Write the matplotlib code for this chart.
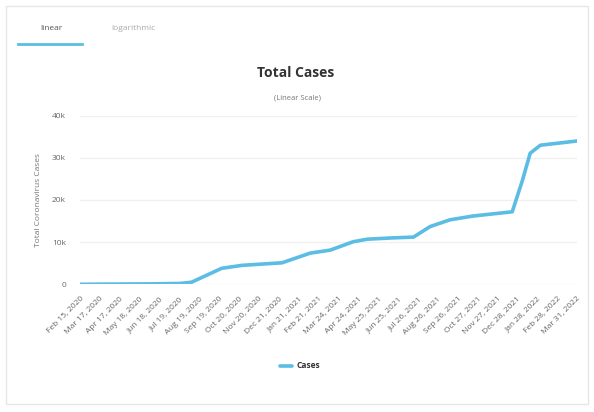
import numpy as np
import pandas as pd
import matplotlib
matplotlib.use("Agg")
import matplotlib.pyplot as plt
from matplotlib.patches import Rectangle
from matplotlib.lines import Line2D

# data
dates = ["2020-02-15", "2020-04-01", "2020-06-01", "2020-07-20", "2020-08-07",
         "2020-09-23", "2020-10-25", "2020-12-26", "2021-02-08", "2021-03-11",
         "2021-04-16", "2021-05-08", "2021-06-15", "2021-07-19", "2021-08-14",
         "2021-09-14", "2021-10-20", "2021-12-20", "2022-01-05", "2022-01-17",
         "2022-02-02", "2022-03-31"]
cases = [0, 50, 100, 200, 500,
         3800, 4500, 5100, 7400, 8100,
         10100, 10700, 11000, 11200, 13700,
         15300, 16200, 17200, 24700, 31100,
         33000, 34000]

tick_labels = ["Feb 15, 2020", "Mar 17, 2020", "Apr 17, 2020", "May 18, 2020",
               "Jun 18, 2020", "Jul 19, 2020", "Aug 19, 2020", "Sep 19, 2020",
               "Oct 20, 2020", "Nov 20, 2020", "Dec 21, 2020", "Jan 21, 2021",
               "Feb 21, 2021", "Mar 24, 2021", "Apr 24, 2021", "May 25, 2021",
               "Jun 25, 2021", "Jul 26, 2021", "Aug 26, 2021", "Sep 26, 2021",
               "Oct 27, 2021", "Nov 27, 2021", "Dec 28, 2021", "Jan 28, 2022",
               "Feb 28, 2022", "Mar 31, 2022"]
y_ticks = [0, 10000, 20000, 30000, 40000]
y_labels = ["0", "10k", "20k", "30k", "40k"]

plt.rcParams["font.family"] = ["Open Sans", "DejaVu Sans"]

W, H = 594, 412
fig = plt.figure(figsize=(W / 100, H / 100), dpi=100)
fig.patch.set_facecolor("white")

# card border
fig.patches.append(Rectangle((6 / W, 8 / H), 582 / W, 398 / H, transform=fig.transFigure,
                             facecolor="none", edgecolor="#e6e6e6", linewidth=1.0))

# tabs
fig.text(51 / W, 1 - 28 / H, "linear", ha="center", va="center", fontsize=6, color="#555555")
fig.text(133 / W, 1 - 28 / H, "logarithmic", ha="center", va="center", fontsize=6, color="#aaaaaa")
fig.add_artist(Line2D([18 / W, 82 / W], [1 - 44 / H, 1 - 44 / H], transform=fig.transFigure,
                      color="#5bbde4", linewidth=2))

# titles
fig.text(296 / W, 1 - 73 / H, "Total Cases", ha="center", va="center",
         fontsize=10, fontweight="bold", color="#333333")
fig.text(298 / W, 1 - 98 / H, "(Linear Scale)", ha="center", va="center",
         fontsize=5.5, color="#777777")

ax = fig.add_axes([80 / W, 1 - 284.3 / H, 497 / W, (284.3 - 115.7) / H])
ax.set_facecolor("none")
x = pd.to_datetime(dates)
ax.plot(x, cases, color="#5bbde4", linewidth=2.6, solid_capstyle="round", label="Cases")

tick_pos = pd.to_datetime(tick_labels, format="%b %d, %Y")
ax.set_xticks(tick_pos)
ax.set_xticklabels(tick_labels, rotation=45, ha="right", rotation_mode="anchor",
                   fontsize=6, color="#666666")
ax.set_xlim(tick_pos[0], tick_pos[-1])
ax.set_ylim(0, 40000)
ax.set_yticks(y_ticks)
ax.set_yticklabels(y_labels, fontsize=6, color="#666666")
ax.tick_params(axis="y", length=0, pad=10)
ax.tick_params(axis="x", length=0, pad=8)
ax.grid(axis="y", color="#f0f0f0", linewidth=1)
ax.set_axisbelow(True)
for s in ax.spines.values():
    s.set_visible(False)
ax.set_ylabel("Total Coronavirus Cases", fontsize=6, color="#777777", labelpad=7)

leg = fig.legend(handles=ax.get_lines(), loc="center", bbox_to_anchor=(300 / W, 1 - 366 / H),
                 frameon=False, fontsize=6, handlelength=1.4, handletextpad=0.5)
for t in leg.get_texts():
    t.set_fontweight("bold")
    t.set_color("#333333")

fig.savefig("out.png", dpi=100)
